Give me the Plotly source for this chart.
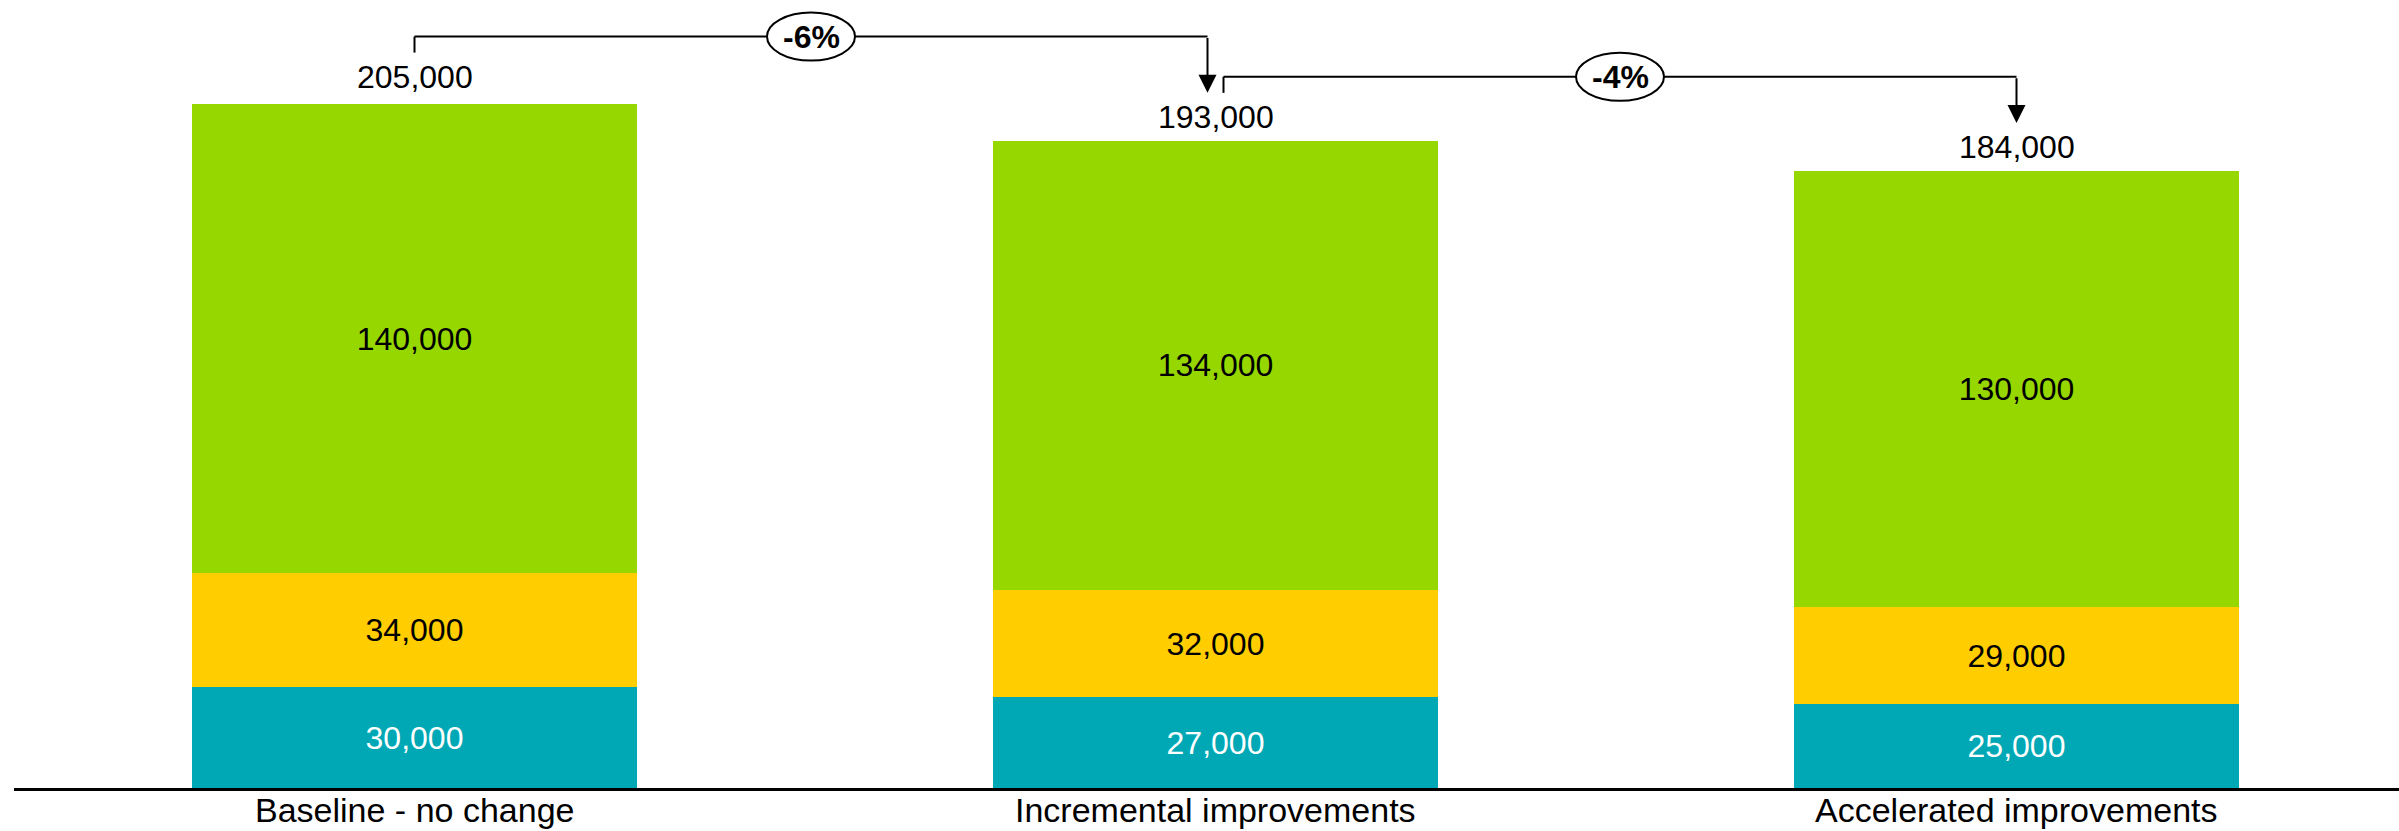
import plotly.graph_objects as go

# Scenario categories and stacked components
categories = ["Baseline - no change", "Incremental improvements", "Accelerated improvements"]
teal_values = [30000, 27000, 25000]
yellow_values = [34000, 32000, 29000]
green_values = [140000, 134000, 130000]
totals = [205000, 193000, 184000]
change_labels = ["-6%", "-4%"]

colors = {"teal": "#00A8B5", "yellow": "#FFCD00", "green": "#97D700"}
FONT = "Liberation Sans, Arial, sans-serif"

# Geometry of the plotting area (pixels)
W, H = 2399, 831
M_L, M_R, M_T, M_B = 14, 0, 0, 43
plot_w = W - M_L - M_R
plot_h = H - M_T - M_B
cat_px = 801                      # pixel spacing between categories
y_max = 235000
px_per_unit = plot_h / y_max

def px(n):
    """Convert a vertical pixel distance into data units."""
    return n / px_per_unit

x = list(range(len(categories)))

fig = go.Figure()
for name, vals, color, txtcol in [
    ("teal", teal_values, colors["teal"], "white"),
    ("yellow", yellow_values, colors["yellow"], "black"),
    ("green", green_values, colors["green"], "black"),
]:
    fig.add_trace(go.Bar(
        x=x, y=vals, name=name,
        marker=dict(color=color, line=dict(width=0)),
        width=0.556,
        texttemplate="%{y:,.0f}",
        textposition="inside",
        insidetextanchor="middle",
        textfont=dict(family=FONT, size=32, color=txtcol),
        hoverinfo="skip",
    ))

annotations = []
shapes = []

# Category names below the baseline
for i, name in enumerate(categories):
    annotations.append(dict(
        x=i, y=0, xref="x", yref="paper", text=name, showarrow=False,
        yshift=-42, yanchor="bottom", borderpad=0,
        font=dict(family=FONT, size=34, color="black"),
    ))

# Totals above each stack
for i, t in enumerate(totals):
    annotations.append(dict(
        x=i, y=t, xref="x", yref="y", text=f"{t:,}", showarrow=False,
        yshift=24, yanchor="middle",
        font=dict(family=FONT, size=32, color="black"),
    ))

# Change brackets between consecutive scenarios
dx = 8 / cat_px
n = len(categories)
for i, lab in enumerate(change_labels):
    x_start = i + (dx if i > 0 else 0)
    x_end = (i + 1) - (dx if i + 1 < n - 1 else 0)
    y_start = totals[i] + px(48)
    y_tip = totals[i + 1] + px(48)
    y_bar = max(totals[i], totals[i + 1]) + px(64)
    x_mid = (x_start + x_end) / 2

    shapes.append(dict(type="line", xref="x", yref="y",
                       x0=x_start, x1=x_start, y0=y_start, y1=y_bar,
                       line=dict(color="black", width=2)))
    shapes.append(dict(type="line", xref="x", yref="y",
                       x0=x_start, x1=x_end, y0=y_bar, y1=y_bar,
                       line=dict(color="black", width=2)))
    shapes.append(dict(type="circle", xref="x", yref="y",
                       xsizemode="pixel", ysizemode="pixel",
                       xanchor=x_mid, yanchor=y_bar,
                       x0=-44, x1=44, y0=-24, y1=24,
                       fillcolor="white", line=dict(color="black", width=2)))
    annotations.append(dict(
        x=x_end, y=y_tip, xref="x", yref="y",
        ax=x_end, ay=y_bar, axref="x", ayref="y",
        text="", showarrow=True, arrowhead=2, arrowsize=1.8,
        arrowwidth=2, arrowcolor="black", standoff=0,
    ))
    annotations.append(dict(
        x=x_mid, y=y_bar, xref="x", yref="y", text=f"<b>{lab}</b>",
        showarrow=False, yanchor="middle",
        font=dict(family=FONT, size=32, color="black"),
    ))

fig.update_layout(
    width=W, height=H,
    margin=dict(l=M_L, r=M_R, t=M_T, b=M_B, pad=0, autoexpand=False),
    barmode="stack",
    showlegend=False,
    plot_bgcolor="white", paper_bgcolor="white",
    font=dict(family=FONT, color="black"),
    xaxis=dict(
        range=[-0.5, -0.5 + plot_w / cat_px],
        showticklabels=False,
        showline=True, linecolor="black", linewidth=2.5,
        showgrid=False, zeroline=False, ticks="",
        automargin=False, fixedrange=True,
    ),
    yaxis=dict(range=[0, y_max], visible=False, showgrid=False,
               zeroline=False, automargin=False, fixedrange=True),
    shapes=shapes,
    annotations=annotations,
)

fig.write_html("out.html")
